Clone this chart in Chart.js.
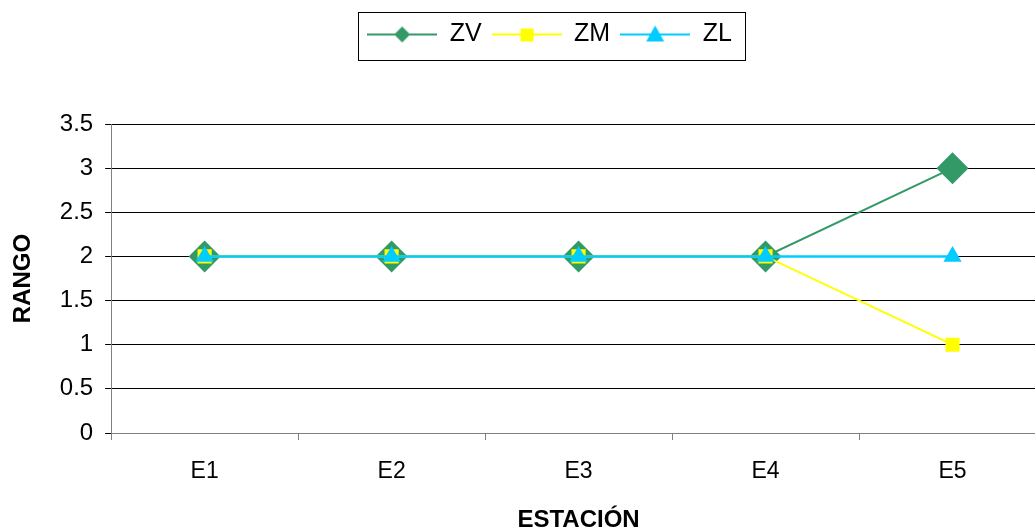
<!DOCTYPE html>
<html>
<head>
<meta charset="utf-8">
<script src="https://cdn.jsdelivr.net/npm/chart.js@4/dist/chart.umd.min.js"></script>
<style>
  html, body { margin: 0; padding: 0; background: #fff; overflow: hidden; }
  canvas { display: block; }
</style>
</head>
<body>
<canvas id="grafico" width="1050" height="529"></canvas>
<script>
// datos del gráfico
const estaciones = ["E1", "E2", "E3", "E4", "E5"];
const valoresZV = [2, 2, 2, 2, 3];
const valoresZM = [2, 2, 2, 2, 1];
const valoresZL = [2, 2, 2, 2, 2];

const colorZV = "#339966";
const colorZM = "#FFFF00";
const colorZL = "#00CCFF";

const fuente = "'Liberation Sans', Arial, sans-serif";

// icono de leyenda: línea + marcador
function iconoLeyenda(color, estilo) {
  const c = document.createElement("canvas");
  c.width = 70; c.height = 24;
  const g = c.getContext("2d");
  g.strokeStyle = color; g.lineWidth = 2;
  g.beginPath(); g.moveTo(0, 12); g.lineTo(70, 12); g.stroke();
  g.fillStyle = color;
  g.beginPath();
  if (estilo === "diamante") {
    g.moveTo(35, 4); g.lineTo(43, 12); g.lineTo(35, 20); g.lineTo(27, 12);
  } else if (estilo === "cuadrado") {
    g.rect(29, 6, 13, 13);
  } else {
    g.moveTo(35, 3); g.lineTo(44, 19); g.lineTo(26, 19);
  }
  g.closePath(); g.fill();
  return c;
}

const iconos = [
  iconoLeyenda(colorZV, "diamante"),
  iconoLeyenda(colorZM, "cuadrado"),
  iconoLeyenda(colorZL, "triangulo")
];

// leyenda más alta y desplazada un poco a la derecha, con borde
const ajusteLeyenda = {
  id: "ajusteLeyenda",
  beforeInit(chart) {
    const leyenda = chart.legend;
    const fitOriginal = leyenda.fit;
    leyenda.fit = function () {
      fitOriginal.call(this);
      this.height = 112;
    };
  },
  afterLayout(chart) {
    chart.legend.left += 22;
    chart.legend.right += 22;
  },
  afterDraw(chart) {
    const cajas = chart.legend.legendHitBoxes;
    if (!cajas || !cajas.length) return;
    const izq = Math.min(...cajas.map(b => b.left)) - 9;
    const der = Math.max(...cajas.map(b => b.left + b.width)) + 13;
    const ctx = chart.ctx;
    ctx.save();
    ctx.strokeStyle = "#000";
    ctx.lineWidth = 1;
    ctx.strokeRect(Math.round(izq) + 0.5, 12.5, Math.round(der - izq), 48);
    ctx.restore();
  }
};

new Chart(document.getElementById("grafico"), {
  type: "line",
  data: {
    labels: estaciones,
    datasets: [
      {
        label: "ZV", data: valoresZV, order: 2,
        borderColor: colorZV, backgroundColor: colorZV, borderWidth: 2,
        pointStyle: "rectRot", pointRadius: 16, pointBorderWidth: 0
      },
      {
        label: "ZM", data: valoresZM, order: 1,
        borderColor: colorZM, backgroundColor: colorZM, borderWidth: 2,
        pointStyle: "rect", pointRadius: 10, pointBorderWidth: 0
      },
      {
        label: "ZL", data: valoresZL, order: 0,
        borderColor: colorZL, backgroundColor: colorZL, borderWidth: 2.5,
        pointStyle: "triangle", pointRadius: 10.5, pointBorderWidth: 0
      }
    ]
  },
  options: {
    responsive: false,
    animation: false,
    layout: { autoPadding: false, padding: { top: 12, right: 4, left: 9, bottom: 0 } },
    plugins: {
      tooltip: { enabled: false },
      legend: {
        position: "top",
        labels: {
          usePointStyle: true,
          pointStyleWidth: 70,
          boxHeight: 24,
          padding: 10,
          color: "#000",
          font: { family: fuente, size: 25 },
          sort: (a, b) => a.datasetIndex - b.datasetIndex,
          generateLabels(chart) {
            return chart.data.datasets.map((ds, i) => ({
              text: ds.label,
              pointStyle: iconos[i],
              datasetIndex: i,
              hidden: false,
              lineWidth: 0,
              fontColor: "#000"
            }));
          }
        }
      }
    },
    scales: {
      x: {
        offset: true,
        grid: { offset: true, drawOnChartArea: false, color: "#808080", tickLength: 7 },
        border: { color: "#808080" },
        ticks: { color: "#000", padding: 20, font: { family: fuente, size: 23, lineHeight: 1 } },
        title: {
          display: true, text: "ESTACIÓN", color: "#000", padding: { top: 5, bottom: -3 },
          font: { family: fuente, size: 24, weight: "bold", lineHeight: 1 }
        }
      },
      y: {
        min: 0, max: 3.5,
        ticks: {
          stepSize: 0.5, color: "#000", padding: 12,
          font: { family: fuente, size: 24 },
          callback: (v) => String(v)
        },
        grid: { color: "#000", tickLength: 6, tickColor: "#000" },
        border: { color: "#808080" },
        title: {
          display: true, text: "RANGO", color: "#000", padding: { top: 0, bottom: 10 },
          font: { family: fuente, size: 24, weight: "bold" }
        }
      }
    }
  },
  plugins: [ajusteLeyenda]
});
</script>
</body>
</html>
